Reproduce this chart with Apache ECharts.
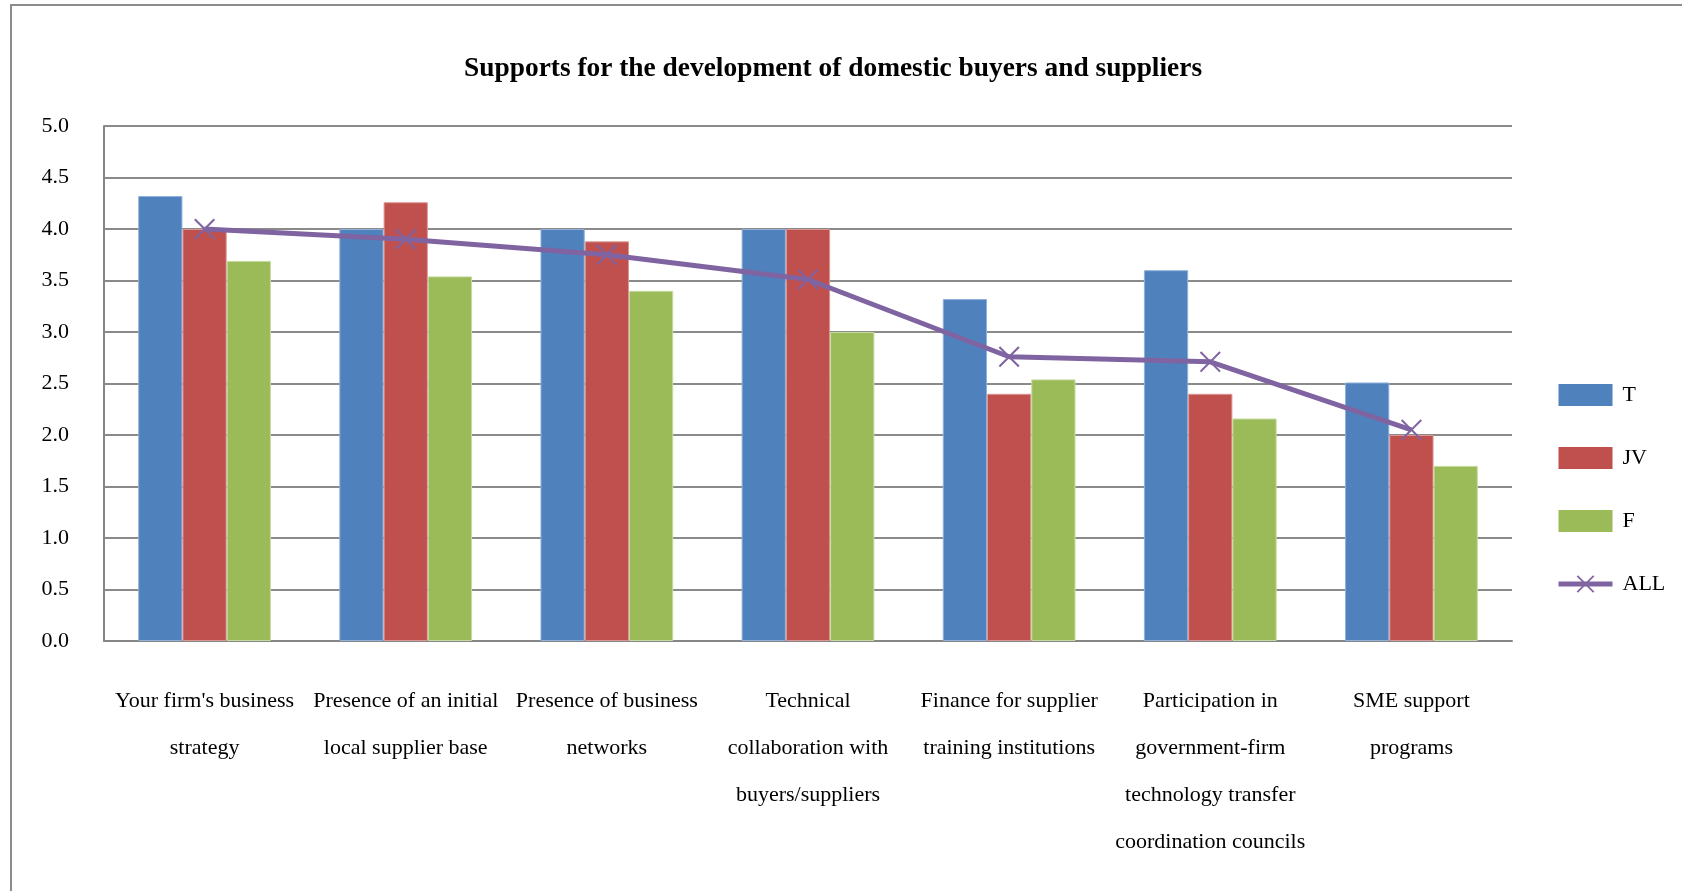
<!DOCTYPE html>
<html>
<head>
<meta charset="utf-8">
<script src="https://cdn.jsdelivr.net/npm/echarts@6/dist/echarts.min.js"></script>
<style>
html,body{margin:0;padding:0;background:#fff;}
#chart{width:1682px;height:891px;}
</style>
</head>
<body>
<div id="chart"></div>
<script>
const titleText = 'Supports for the development of domestic buyers and suppliers';
const categories = [
  "Your firm's business\nstrategy",
  "Presence of an initial\nlocal supplier base",
  "Presence of business\nnetworks",
  "Technical\ncollaboration with\nbuyers/suppliers",
  "Finance for supplier\ntraining institutions",
  "Participation in\ngovernment-firm\ntechnology transfer\ncoordination councils",
  "SME support\nprograms"
];
const seriesNames = ['T', 'JV', 'F', 'ALL'];
const valuesT   = [4.32, 4.00, 4.00, 4.00, 3.32, 3.60, 2.51];
const valuesJV  = [4.00, 4.26, 3.88, 4.00, 2.40, 2.40, 2.00];
const valuesF   = [3.69, 3.54, 3.40, 3.00, 2.54, 2.16, 1.70];
const valuesALL = [4.00, 3.90, 3.75, 3.51, 2.76, 2.71, 2.05];

const FONT = '"Liberation Serif", "Times New Roman", serif';
const crossPath = 'path://M0,7 L7,0 L50,43 L93,0 L100,7 L57,50 L100,93 L93,100 L50,57 L7,100 L0,93 L43,50 Z';

const chart = echarts.init(document.getElementById('chart'));
chart.setOption({
  backgroundColor: '#ffffff',
  animation: false,
  title: {
    text: titleText,
    left: 464,
    top: 55,
    padding: 0,
    textStyle: { fontFamily: FONT, fontSize: 27.4, fontWeight: 'bold', color: '#000' }
  },
  graphic: [{
    type: 'rect',
    shape: { x: 11, y: 5, width: 1700, height: 1000 },
    style: { fill: 'none', stroke: '#8c8c8c', lineWidth: 2 },
    silent: true
  }],
  legend: {
    orient: 'vertical',
    left: 1551,
    top: 379,
    itemWidth: 54,
    itemHeight: 22,
    itemGap: 41,
    itemStyle: { borderWidth: 0 },
    textStyle: { fontFamily: FONT, fontSize: 22, lineHeight: 22, color: '#000', padding: [0, 0, 0, 5] },
    data: [
      { name: 'T', icon: 'rect' },
      { name: 'JV', icon: 'rect' },
      { name: 'F', icon: 'rect' },
      { name: 'ALL', lineStyle: { width: 5 } }
    ]
  },
  grid: { left: 104, right: 170, top: 126, bottom: 250 },
  xAxis: {
    type: 'category',
    data: categories,
    axisLine: { lineStyle: { color: '#868686', width: 2 } },
    axisTick: { show: false },
    axisLabel: {
      interval: 0,
      margin: 37,
      fontFamily: FONT,
      fontSize: 22,
      lineHeight: 47,
      color: '#000'
    }
  },
  yAxis: {
    type: 'value',
    min: 0,
    max: 5,
    interval: 0.5,
    axisLine: { show: true, lineStyle: { color: '#868686', width: 2 } },
    axisTick: { show: false },
    splitLine: { lineStyle: { color: '#8a8a8a', width: 2 } },
    axisLabel: {
      margin: 35,
      fontFamily: FONT,
      fontSize: 22,
      color: '#000',
      formatter: v => v.toFixed(1)
    }
  },
  series: [
    { name: 'T', type: 'bar', data: valuesT, barGap: '0%', barCategoryGap: '34%',
      itemStyle: { color: '#4F81BD', borderColor: '#8fb1da', borderWidth: 1 } },
    { name: 'JV', type: 'bar', data: valuesJV, barGap: '0%', barCategoryGap: '34%',
      itemStyle: { color: '#C0504D', borderColor: '#dc9694', borderWidth: 1 } },
    { name: 'F', type: 'bar', data: valuesF, barGap: '0%', barCategoryGap: '34%',
      itemStyle: { color: '#9BBB59', borderColor: '#c5dba0', borderWidth: 1 } },
    { name: 'ALL', type: 'line', data: valuesALL, z: 5,
      symbol: crossPath, symbolSize: 21,
      lineStyle: { color: '#8064A2', width: 5 },
      itemStyle: { color: '#8064A2' } }
  ]
});
</script>
</body>
</html>
